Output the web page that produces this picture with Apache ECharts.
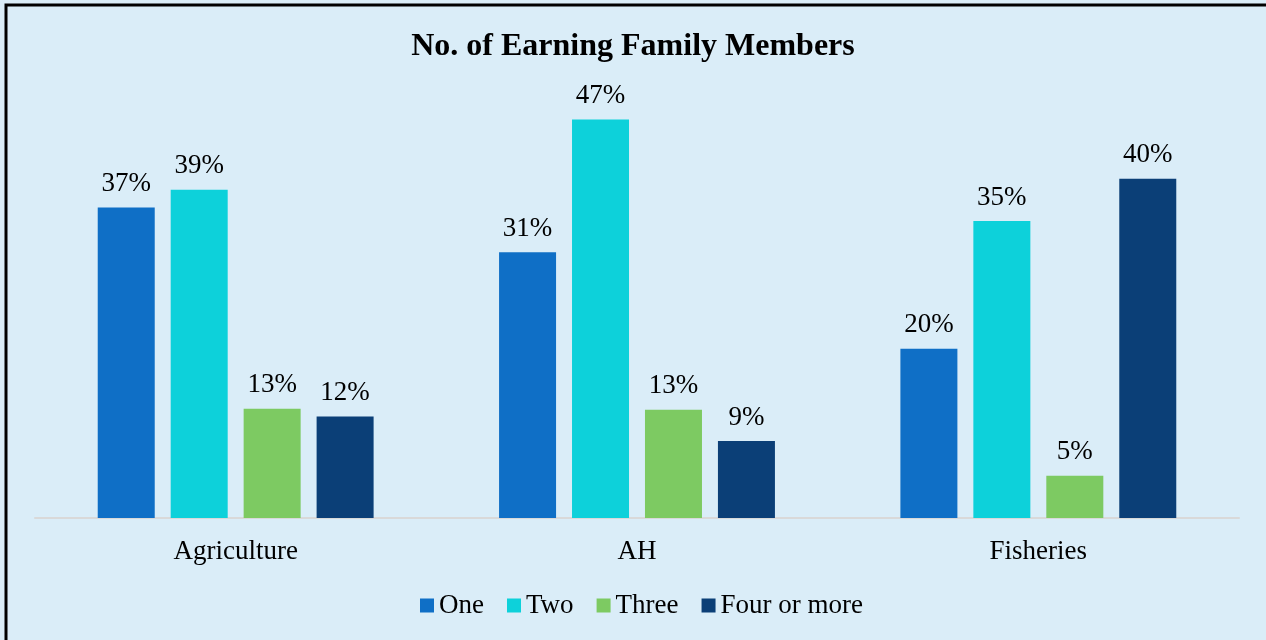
<!DOCTYPE html>
<html>
<head>
<meta charset="utf-8">
<script src="https://cdn.jsdelivr.net/npm/echarts@6/dist/echarts.min.js"></script>
<style>
    html, body { margin: 0; padding: 0; background: #daedf8; }
    #earning { width: 1266px; height: 640px; }
</style>
</head>
<body>
<div id="earning"></div>
<script type="text/javascript">
// categories and series values (percent)
const categories = ['Agriculture', 'AH', 'Fisheries']
const seriesNames = ['One', 'Two', 'Three', 'Four or more']
const one = [36.7, 31.4, 20.0]
const two = [38.8, 47.1, 35.1]
const three = [12.9, 12.8, 5.0]
const fourOrMore = [12.0, 9.1, 40.1]
const colors = ['#0f6fc6', '#0dd1da', '#7dca62', '#0b3f77']

const fontFamily = '"Liberation Serif", "Times New Roman", serif'

function makeSeries(name, data, color) {
    return {
        name: name,
        type: 'bar',
        barWidth: 57,
        barGap: '28%',
        itemStyle: {
            color: color
        },
        label: {
            show: true,
            position: 'top',
            distance: 10,
            color: '#000',
            fontFamily: fontFamily,
            fontSize: 27,
            formatter: function (p) {
                return Math.round(p.value) + '%'
            }
        },
        data: data
    }
}

let option = {
    backgroundColor: '#daedf8',
    animation: false,
    title: {
        text: 'No. of Earning Family Members',
        left: 'center',
        top: 26,
        textStyle: {
            fontFamily: fontFamily,
            fontWeight: 'bold',
            fontSize: 32,
            color: '#000'
        }
    },
    legend: {
        data: seriesNames,
        left: 415,
        top: 587,
        icon: 'rect',
        itemWidth: 14,
        itemHeight: 14,
        itemGap: 23,
        textStyle: {
            fontFamily: fontFamily,
            fontSize: 27,
            color: '#000'
        }
    },
    grid: {
        left: 35,
        right: 27,
        top: 95,
        bottom: 122,
        containLabel: false
    },
    xAxis: {
        type: 'category',
        data: categories,
        axisTick: { show: false },
        axisLine: {
            lineStyle: { color: '#d9d9d9', width: 2 }
        },
        axisLabel: {
            margin: 20,
            color: '#000',
            fontFamily: fontFamily,
            fontSize: 27
        }
    },
    yAxis: {
        type: 'value',
        min: 0,
        max: 50,
        show: false,
        splitLine: { show: false }
    },
    graphic: [{
        type: 'polyline',
        shape: {
            points: [[6, 640], [6, 5], [1266, 5]]
        },
        style: {
            stroke: '#000',
            lineWidth: 3,
            fill: null
        },
        z: 100
    }],
    series: [
        makeSeries(seriesNames[0], one, colors[0]),
        makeSeries(seriesNames[1], two, colors[1]),
        makeSeries(seriesNames[2], three, colors[2]),
        makeSeries(seriesNames[3], fourOrMore, colors[3])
    ]
}

let myChart = echarts.init(document.getElementById('earning'))
myChart.setOption(option)
</script>
</body>
</html>
